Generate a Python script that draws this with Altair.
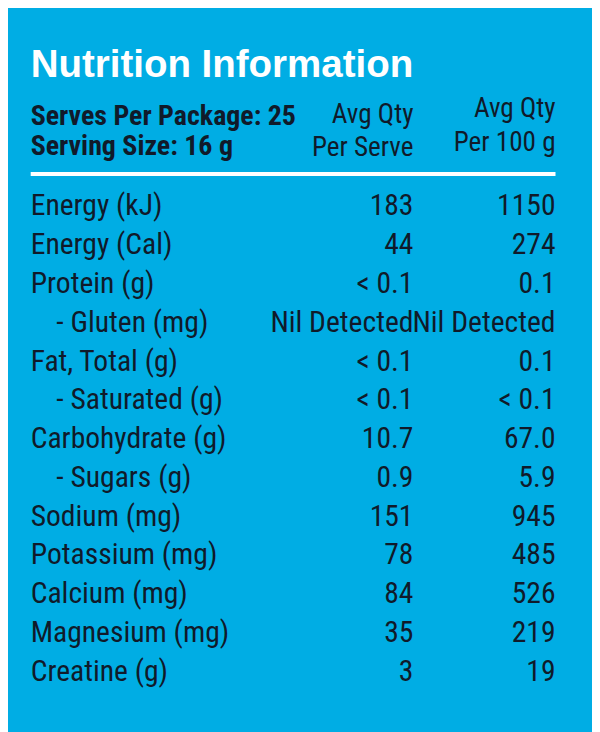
import altair as alt
import pandas as pd

# ---- data ----
title_text = ["Nutrition Information"]
header_left = ["Serves Per Package: 25", "Serving Size: 16 g"]
header_col1 = ["Avg Qty", "Per Serve"]
header_col2 = ["Avg Qty", "Per 100 g"]

nutrients = ["Energy (kJ)", "Energy (Cal)", "Protein (g)", "- Gluten (mg)",
             "Fat, Total (g)", "- Saturated (g)", "Carbohydrate (g)", "- Sugars (g)",
             "Sodium (mg)", "Potassium (mg)", "Calcium (mg)", "Magnesium (mg)",
             "Creatine (g)"]
per_serve = ["183", "44", "< 0.1", "Nil Detected", "< 0.1", "< 0.1", "10.7", "0.9",
             "151", "78", "84", "35", "3"]
per_100g = ["1150", "274", "0.1", "Nil Detected", "0.1", "< 0.1", "67.0", "5.9",
            "945", "485", "526", "219", "19"]
is_sub = [False, False, False, True, False, True, False, True,
          False, False, False, False, False]

BG = "#00ADE4"
INK = "#101a2a"
BODY_FONT = "Roboto Condensed"
BODY_SIZE = 30
HEAD_BOLD_SIZE = 28.3
HEAD_SIZE = 27.5

rows = pd.DataFrame({
    "row": list(range(len(nutrients))),
    "label": nutrients,
    "serve": per_serve,
    "p100": per_100g,
    "sub": is_sub,
})

W, H = 592, 724

yscale = alt.Scale(domain=[0, len(nutrients) - 1], range=[205.3, 677.0])

base = alt.Chart(rows)

def row_text(field, xpos, align, filt=None):
    c = base
    if filt is not None:
        c = c.transform_filter(filt)
    return c.mark_text(
        align=align, baseline="alphabetic", font=BODY_FONT, fontSize=BODY_SIZE,
        color=INK
    ).encode(
        x=alt.value(xpos),
        y=alt.Y("row:Q", scale=yscale, axis=None),
        text=alt.Text(f"{field}:N"),
    )

labels_main = row_text("label", 23, "left", "!datum.sub")
labels_sub = row_text("label", 49, "left", "datum.sub")
col1 = row_text("serve", 411, "right")
col2 = row_text("p100", 555, "right")

def fixed_text(txt, xpos, ypos, align, size, bold, color, font):
    return alt.Chart(pd.DataFrame({"t": [txt]})).mark_text(
        align=align, baseline="alphabetic", fontSize=size,
        fontWeight="bold" if bold else "normal", color=color, font=font
    ).encode(x=alt.value(xpos), y=alt.value(ypos), text="t:N")

title = fixed_text(title_text[0], 23, 65.3, "left", 39, True, "white",
                   "Liberation Sans")
hl1 = fixed_text(header_left[0], 23, 113.7, "left", HEAD_BOLD_SIZE, True, INK, BODY_FONT)
hl2 = fixed_text(header_left[1], 23, 143.7, "left", HEAD_BOLD_SIZE, True, INK, BODY_FONT)
h11 = fixed_text(header_col1[0], 411, 112, "right", HEAD_SIZE, False, INK, BODY_FONT)
h12 = fixed_text(header_col1[1], 411, 145, "right", HEAD_SIZE, False, INK, BODY_FONT)
h21 = fixed_text(header_col2[0], 555, 105.3, "right", HEAD_SIZE, False, INK, BODY_FONT)
h22 = fixed_text(header_col2[1], 555, 140.3, "right", HEAD_SIZE, False, INK, BODY_FONT)

rule = alt.Chart(pd.DataFrame({"a": [0]})).mark_rule(
    color="white", strokeWidth=4
).encode(x=alt.value(23), x2=alt.value(555), y=alt.value(163.3))

chart = alt.layer(
    title, hl1, hl2, h11, h12, h21, h22, rule,
    labels_main, labels_sub, col1, col2
).properties(
    width=W, height=H,
    autosize=alt.AutoSizeParams(type="none"),
    padding=0,
    background=BG,
).configure_view(stroke=None)

chart.save("out.html", embed_options={"renderer": "svg", "actions": False})
